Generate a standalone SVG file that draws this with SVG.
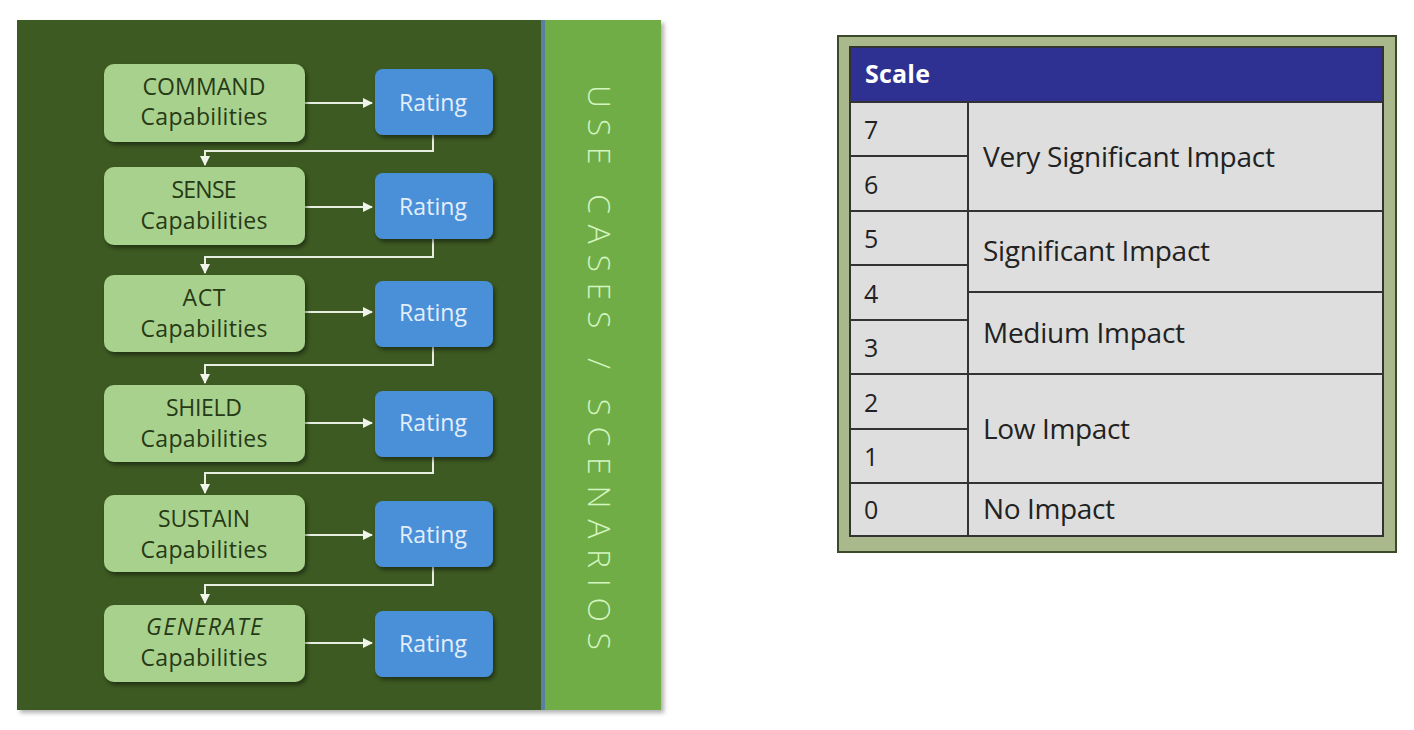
<svg xmlns="http://www.w3.org/2000/svg" width="1414" height="730" viewBox="0 0 1414 730">
<defs>
<filter id="sh" x="-10%" y="-10%" width="130%" height="130%"><feDropShadow dx="2" dy="3" stdDeviation="2" flood-color="#000" flood-opacity="0.45"/></filter>
<filter id="sh2" x="-5%" y="-5%" width="110%" height="110%"><feDropShadow dx="3" dy="3" stdDeviation="2" flood-color="#000" flood-opacity="0.3"/></filter>
<marker id="ah" viewBox="0 0 10 10" refX="9" refY="5" markerWidth="5" markerHeight="5" orient="auto"><path d="M0,0 L10,5 L0,10 z" fill="#f0f4ea"/></marker>
<style>
.cap{fill:#a9d18e;filter:url(#sh)}
.rat{fill:#4a90d9;filter:url(#sh)}
.ct{font-family:"Open Sans","Liberation Sans",sans-serif;font-size:23px;fill:#263a16;text-anchor:middle}
.rt{font-family:"Open Sans","Liberation Sans",sans-serif;font-size:23px;fill:#e4eefa;text-anchor:middle}
.cn{fill:none;stroke:#e8eedf;stroke-width:2}
.tb{font-family:"Open Sans","Liberation Sans",sans-serif;font-size:25px;fill:#222}
.tl{font-family:"Open Sans","Liberation Sans",sans-serif;font-size:28px;fill:#222}
.cell{fill:#dedede;stroke:#333;stroke-width:2}
</style>
</defs>
<rect width="1414" height="730" fill="#ffffff"/>
<g id="panel">
<rect x="17" y="20" width="644" height="690" fill="#3c5a24" filter="url(#sh2)"/>
<rect x="541" y="20" width="4" height="690" fill="#5a7fa0"/>
<rect x="545" y="20" width="116" height="690" fill="#70ad47"/>
<text x="0" y="0" transform="translate(588,85) rotate(90)" font-family="'Open Sans','Liberation Sans',sans-serif" font-size="32" font-weight="300" fill="#d4f5c0" textLength="565" lengthAdjust="spacing">USE CASES / SCENARIOS</text>
</g>
<g id="connectors">
<line class="cn" x1="305" y1="103" x2="372" y2="103" marker-end="url(#ah)"/>
<line class="cn" x1="305" y1="207" x2="372" y2="207" marker-end="url(#ah)"/>
<line class="cn" x1="305" y1="312" x2="372" y2="312" marker-end="url(#ah)"/>
<line class="cn" x1="305" y1="423" x2="372" y2="423" marker-end="url(#ah)"/>
<line class="cn" x1="305" y1="535" x2="372" y2="535" marker-end="url(#ah)"/>
<line class="cn" x1="305" y1="643" x2="372" y2="643" marker-end="url(#ah)"/>
<polyline class="cn" points="433,135 433,151 205,151 205,165" marker-end="url(#ah)"/>
<polyline class="cn" points="433,239 433,257 205,257 205,273" marker-end="url(#ah)"/>
<polyline class="cn" points="433,347 433,365 205,365 205,383" marker-end="url(#ah)"/>
<polyline class="cn" points="433,457 433,473 205,473 205,493" marker-end="url(#ah)"/>
<polyline class="cn" points="433,567 433,585 205,585 205,603" marker-end="url(#ah)"/>
</g>
<g id="command"><rect class="cap" x="104" y="64" width="201" height="78" rx="10"/><text class="ct" x="204" y="95" textLength="123">COMMAND</text><text class="ct" x="204" y="125" textLength="127">Capabilities</text></g>
<g id="rating1"><rect class="rat" x="375" y="69" width="118" height="66" rx="8"/><text class="rt" x="433" y="111" textLength="68">Rating</text></g>
<g id="sense"><rect class="cap" x="104" y="167" width="201" height="78" rx="10"/><text class="ct" x="204" y="198" textLength="65">SENSE</text><text class="ct" x="204" y="229" textLength="127">Capabilities</text></g>
<g id="rating2"><rect class="rat" x="375" y="173" width="118" height="66" rx="8"/><text class="rt" x="433" y="215" textLength="68">Rating</text></g>
<g id="act"><rect class="cap" x="104" y="275" width="201" height="77" rx="10"/><text class="ct" x="204" y="306" textLength="43">ACT</text><text class="ct" x="204" y="337" textLength="127">Capabilities</text></g>
<g id="rating3"><rect class="rat" x="375" y="281" width="118" height="66" rx="8"/><text class="rt" x="433" y="321" textLength="68">Rating</text></g>
<g id="shield"><rect class="cap" x="104" y="385" width="201" height="77" rx="10"/><text class="ct" x="204" y="416" textLength="76">SHIELD</text><text class="ct" x="204" y="447" textLength="127">Capabilities</text></g>
<g id="rating4"><rect class="rat" x="375" y="391" width="118" height="66" rx="8"/><text class="rt" x="433" y="431" textLength="68">Rating</text></g>
<g id="sustain"><rect class="cap" x="104" y="495" width="201" height="77" rx="10"/><text class="ct" x="204" y="527" textLength="92">SUSTAIN</text><text class="ct" x="204" y="558" textLength="127">Capabilities</text></g>
<g id="rating5"><rect class="rat" x="375" y="501" width="118" height="66" rx="8"/><text class="rt" x="433" y="543" textLength="68">Rating</text></g>
<g id="generate"><rect class="cap" x="104" y="605" width="201" height="77" rx="10"/><text class="ct" x="204" y="635" font-style="italic" textLength="116">GENERATE</text><text class="ct" x="204" y="666" textLength="127">Capabilities</text></g>
<g id="rating6"><rect class="rat" x="375" y="611" width="118" height="66" rx="8"/><text class="rt" x="433" y="652" textLength="68">Rating</text></g>
<g id="scale-table">
<rect x="838" y="36" width="558" height="516" fill="#a9b98c" stroke="#3a4a2a" stroke-width="2"/>
<rect x="850" y="47" width="533" height="55" fill="#2e3192" stroke="#333" stroke-width="2"/>
<text x="865" y="83" font-family="'Open Sans','Liberation Sans',sans-serif" font-size="25" font-weight="bold" fill="#ffffff" textLength="65">Scale</text>
<rect class="cell" x="850" y="102" width="118" height="54"/>
<rect class="cell" x="850" y="156" width="118" height="55"/>
<rect class="cell" x="850" y="211" width="118" height="54"/>
<rect class="cell" x="850" y="265" width="118" height="55"/>
<rect class="cell" x="850" y="320" width="118" height="54"/>
<rect class="cell" x="850" y="374" width="118" height="55"/>
<rect class="cell" x="850" y="429" width="118" height="54"/>
<rect class="cell" x="850" y="483" width="118" height="53"/>
<rect class="cell" x="968" y="102" width="415" height="109"/>
<rect class="cell" x="968" y="211" width="415" height="81"/>
<rect class="cell" x="968" y="292" width="415" height="82"/>
<rect class="cell" x="968" y="374" width="415" height="109"/>
<rect class="cell" x="968" y="483" width="415" height="53"/>
<text class="tb" x="864" y="139">7</text>
<text class="tb" x="864" y="194">6</text>
<text class="tb" x="864" y="248">5</text>
<text class="tb" x="864" y="303">4</text>
<text class="tb" x="864" y="357">3</text>
<text class="tb" x="864" y="412">2</text>
<text class="tb" x="864" y="466">1</text>
<text class="tb" x="864" y="519">0</text>
<text class="tl" x="983" y="167" textLength="292">Very Significant Impact</text>
<text class="tl" x="983" y="261" textLength="227">Significant Impact</text>
<text class="tl" x="983" y="343" textLength="202">Medium Impact</text>
<text class="tl" x="983" y="439" textLength="147">Low Impact</text>
<text class="tl" x="983" y="519" textLength="132">No Impact</text>
</g>
</svg>
